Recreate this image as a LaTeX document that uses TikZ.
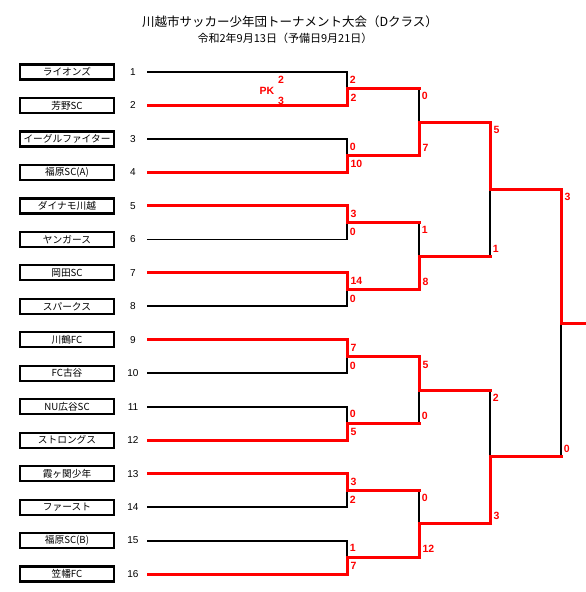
\documentclass[tikz,border=0pt]{standalone}
\usepackage{fontspec}
\setmainfont{Liberation Sans}
\newfontfamily\jpfont{Noto Sans CJK JP}
\begin{document}
\begin{tikzpicture}[x=1pt, y=-1pt,
  team/.style={draw, line width=2.2pt, minimum width=94pt, minimum height=15pt, inner sep=0pt, font=\jpfont\fontsize{9.7}{11}\selectfont},
  seed/.style={font=\fontsize{10}{12}\selectfont},
  lose/.style={line width=1.8pt, black, line cap=rect},
  win/.style={line width=3pt, red, line cap=rect},
  score/.style={text=red, font=\bfseries\fontsize{10.5}{12}\selectfont, inner xsep=2pt, inner ysep=3pt},
  topscore/.style={score, anchor=north west},
  botscore/.style={score, anchor=south west}]
\useasboundingbox (0,0) rectangle (586,592);
\node[font=\jpfont\fontsize{12.5}{15}\selectfont] (title) at (290,22) {川越市サッカー少年団トーナメント大会（Dクラス）};
\node[font=\jpfont\fontsize{11}{13}\selectfont] (date) at (285,38) {令和2年9月13日（予備日9月21日）};
% teams
\node[team] (n1) at (67,72.0) {ライオンズ};
\node[team] (n2) at (67,105.5) {芳野SC};
\node[team] (n3) at (67,138.9) {イーグルファイター};
\node[team] (n4) at (67,172.4) {福原SC(A)};
\node[team] (n5) at (67,205.9) {ダイナモ川越};
\node[team] (n6) at (67,239.4) {ヤンガース};
\node[team] (n7) at (67,272.8) {岡田SC};
\node[team] (n8) at (67,306.3) {スパークス};
\node[team] (n9) at (67,339.8) {川鶴FC};
\node[team] (n10) at (67,373.2) {FC古谷};
\node[team] (n11) at (67,406.7) {NU広谷SC};
\node[team] (n12) at (67,440.2) {ストロングス};
\node[team] (n13) at (67,473.6) {霞ヶ関少年};
\node[team] (n14) at (67,507.1) {ファースト};
\node[team] (n15) at (67,540.6) {福原SC(B)};
\node[team] (n16) at (67,574.0) {笠幡FC};
% seed numbers
\node[seed] (k1) at (133,72.0) {1};
\node[seed] (k2) at (133,105.5) {2};
\node[seed] (k3) at (133,138.9) {3};
\node[seed] (k4) at (133,172.4) {4};
\node[seed] (k5) at (133,205.9) {5};
\node[seed] (k6) at (133,239.4) {6};
\node[seed] (k7) at (133,272.8) {7};
\node[seed] (k8) at (133,306.3) {8};
\node[seed] (k9) at (133,339.8) {9};
\node[seed] (k10) at (133,373.2) {10};
\node[seed] (k11) at (133,406.7) {11};
\node[seed] (k12) at (133,440.2) {12};
\node[seed] (k13) at (133,473.6) {13};
\node[seed] (k14) at (133,507.1) {14};
\node[seed] (k15) at (133,540.6) {15};
\node[seed] (k16) at (133,574.0) {16};
% line starts
\coordinate (s1) at (148,72.0);
\coordinate (s2) at (148,105.5);
\coordinate (s3) at (148,138.9);
\coordinate (s4) at (148,172.4);
\coordinate (s5) at (148,205.9);
\coordinate (s6) at (148,239.4);
\coordinate (s7) at (148,272.8);
\coordinate (s8) at (148,306.3);
\coordinate (s9) at (148,339.8);
\coordinate (s10) at (148,373.2);
\coordinate (s11) at (148,406.7);
\coordinate (s12) at (148,440.2);
\coordinate (s13) at (148,473.6);
\coordinate (s14) at (148,507.1);
\coordinate (s15) at (148,540.6);
\coordinate (s16) at (148,574.0);
% match points
\coordinate (m1) at (347,88.7);
\coordinate (m2) at (347,155.7);
\coordinate (m3) at (347,222.6);
\coordinate (m4) at (347,289.6);
\coordinate (m5) at (347,356.5);
\coordinate (m6) at (347,423.4);
\coordinate (m7) at (347,490.4);
\coordinate (m8) at (347,557.3);
\coordinate (q1) at (419,122.2);
\coordinate (q2) at (419,256.1);
\coordinate (q3) at (419,390.0);
\coordinate (q4) at (419,523.8);
\coordinate (h1) at (490,189.1);
\coordinate (h2) at (490,456.9);
\coordinate (fin) at (561,323.0);
\coordinate (champ) at (586,323.0);
% losers
\draw[lose] (s1) -| node[topscore] {2} (m1);
\draw[lose] (s3) -| node[topscore] {0} (m2);
\draw[lose] (s6) -| node[botscore] {0} (m3);
\draw[lose] (s8) -| node[botscore] {0} (m4);
\draw[lose] (s10) -| node[botscore] {0} (m5);
\draw[lose] (s11) -| node[topscore] {0} (m6);
\draw[lose] (s14) -| node[botscore] {2} (m7);
\draw[lose] (s15) -| node[topscore] {1} (m8);
\draw[lose] (m1 -| q1) node[topscore] {0} -- (q1);
\draw[lose] (m3 -| q2) node[topscore] {1} -- (q2);
\draw[lose] (m6 -| q3) node[botscore] {0} -- (q3);
\draw[lose] (m7 -| q4) node[topscore] {0} -- (q4);
\draw[lose] (q2 -| h1) node[botscore] {1} -- (h1);
\draw[lose] (q3 -| h2) node[topscore] {2} -- (h2);
\draw[lose] (h2 -| fin) node[botscore] {0} -- (fin);
% advancing lines
\draw[win] (m1) -- (m1 -| q1);
\draw[win] (m3) -- (m3 -| q2);
\draw[win] (m6) -- (m6 -| q3);
\draw[win] (m7) -- (m7 -| q4);
\draw[win] (q2) -- (q2 -| h1);
\draw[win] (q3) -- (q3 -| h2);
\draw[win] (h2) -- (h2 -| fin);
% winners
\draw[win] (s2) -| node[botscore] {2} (m1);
\draw[win] (s4) -| node[botscore] {10} (m2);
\draw[win] (s5) -| node[topscore] {3} (m3);
\draw[win] (s7) -| node[topscore] {14} (m4);
\draw[win] (s9) -| node[topscore] {7} (m5);
\draw[win] (s12) -| node[botscore] {5} (m6);
\draw[win] (s13) -| node[topscore] {3} (m7);
\draw[win] (s16) -| node[botscore] {7} (m8);
\draw[win] (m2) -| node[botscore] {7} (q1);
\draw[win] (m4) -| node[botscore] {8} (q2);
\draw[win] (m5) -| node[topscore] {5} (q3);
\draw[win] (m8) -| node[botscore] {12} (q4);
\draw[win] (q1) -| node[topscore] {5} (h1);
\draw[win] (q4) -| node[botscore] {3} (h2);
\draw[win] (h1) -| node[topscore] {3} (fin);
\draw[win] (fin) -- (champ);
% penalty kicks
\node[score, inner sep=0pt] (pk) at (267,91) {PK};
\node[score, inner sep=0pt] (pka) at (281,80) {2};
\node[score, inner sep=0pt] (pkb) at (281,101) {3};
\end{tikzpicture}
\end{document}
